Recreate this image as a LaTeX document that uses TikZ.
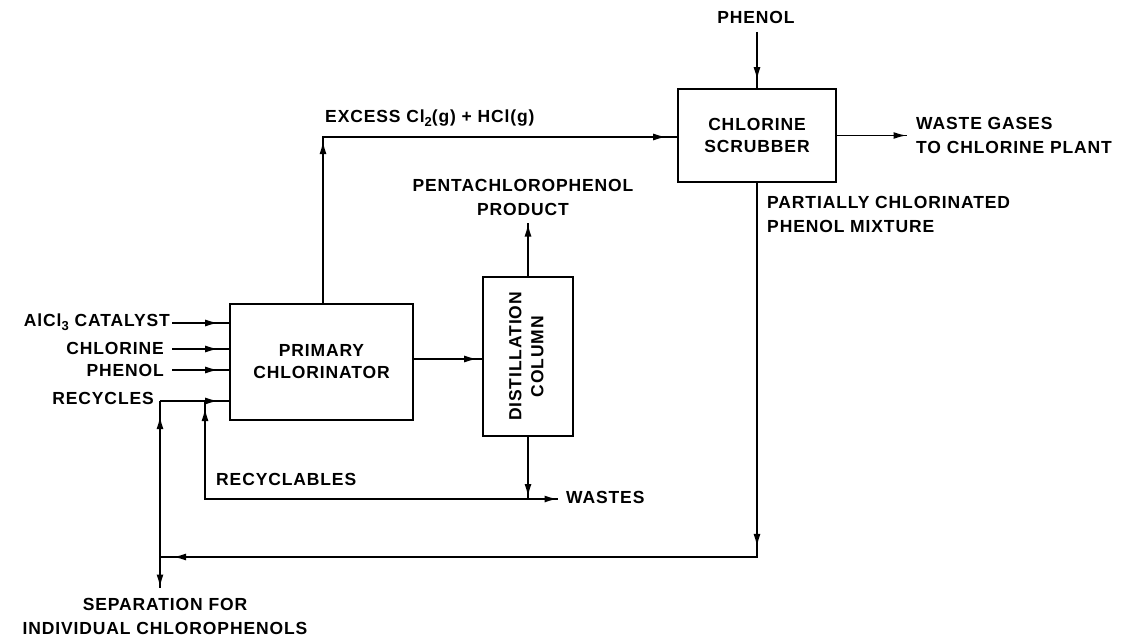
\documentclass[tikz,border=0pt]{standalone}
\usepackage{fontspec}
\setmainfont[LetterSpace=5]{Liberation Sans}
\usetikzlibrary{decorations.markings,arrows.meta}
\newcommand{\sbs}[1]{\raisebox{-0.45ex}{\fontsize{13}{13}\selectfont #1}}
\tikzset{
  lbl/.style={font=\fontsize{17.5}{24}\selectfont\bfseries, inner sep=0pt},
  box/.style={draw, line width=1.8pt, font=\fontsize{17.5}{22}\selectfont\bfseries, align=center, inner sep=0pt},
  flow/.style={line width=1.6pt},
  flowtip/.tip={Latex[length=13pt,width=7pt]},
  mk/.style={postaction={decorate,decoration={markings,mark=at position #1 with {\arrow{flowtip}}}}},
}
\begin{document}
\begin{tikzpicture}[x=1pt,y=-1pt]
\useasboundingbox (0,0) rectangle (1123,642);
% boxes
\node[box, minimum width=183pt, minimum height=116pt] (prim) at (321.5,362) {PRIMARY\\CHLORINATOR};
\node[box, minimum width=90pt, minimum height=159pt] (dist) at (528,356.5) {\rotatebox{90}{\begin{tabular}{@{}c@{}}DISTILLATION\\COLUMN\end{tabular}}};
\node[box, minimum width=158pt, minimum height=93pt] (scrub) at (757,135.5) {CHLORINE\\SCRUBBER};
% coordinates
\coordinate (catIn) at (172,323);
\coordinate (chlIn) at (172,349);
\coordinate (phIn) at (172,370);
\coordinate (recIn) at (160,401);
\coordinate (loopR) at (757,557);
\coordinate (loopL) at (160,557);
\coordinate (sepOut) at (160,588);
\coordinate (wj) at (528,499);
\coordinate (wOut) at (558,499);
\coordinate (rcy) at (205,499);
\coordinate (exUp) at (323,137);
\coordinate (prodTop) at (528,223);
\coordinate (phenTop) at (757,32);
\coordinate (wgOut) at (907,135.5);
% labels
\node[lbl, anchor=east] (catL) at (170,322) {AlCl\sbs{3} CATALYST};
\node[lbl, anchor=east] (chlL) at (164,348) {CHLORINE};
\node[lbl, anchor=east] (phL) at (164,370) {PHENOL};
\node[lbl, anchor=east] (recL) at (154,398) {RECYCLES};
\node[lbl, anchor=west] (rcyL) at (216,479) {RECYCLABLES};
\node[lbl, anchor=west] (wasL) at (566,497) {WASTES};
\node[lbl, align=center] (sepL) at (165,616) {SEPARATION FOR\\INDIVIDUAL CHLOROPHENOLS};
\node[lbl, align=center] (prodL) at (523,197) {PENTACHLOROPHENOL\\PRODUCT};
\node[lbl, anchor=west] (exL) at (325,118) {EXCESS Cl\sbs{2}(g) + HCl(g)};
\node[lbl] (phenL) at (756,17) {PHENOL};
\node[lbl, align=left, anchor=west] (wgL) at (916,135) {WASTE GASES\\TO CHLORINE PLANT};
\node[lbl, align=left, anchor=west] (pcL) at (767,214) {PARTIALLY CHLORINATED\\PHENOL MIXTURE};
% connectors
\draw[flow, mk=-11pt] (catIn) -- (catIn -| prim.west);
\draw[flow, mk=-11pt] (chlIn) -- (chlIn -| prim.west);
\draw[flow, mk=-11pt] (phIn) -- (phIn -| prim.west);
\draw[flow, mk=-11pt] (recIn) -- (recIn -| prim.west);
\draw[flow, mk=-5pt] ([yshift=3pt]prim.east) -- ([yshift=3pt]prim.east -| dist.west);
\draw[flow, mk=-0.5pt] (dist.north) -- (prodTop);
\draw[flow, mk=162pt, mk=-11pt] (prim.north -| exUp) -- (exUp) -- (exUp -| scrub.west);
\draw[flow, mk=-8pt] (phenTop) -- (scrub.north);
\draw[flow, mk=-0.5pt] (scrub.east) -- (wgOut);
\draw[flow, mk=364pt, mk=958pt] (scrub.south) -- (loopR) -- (loopL);
\draw[flow, mk=141pt] (loopL) -- (recIn);
\draw[flow, mk=-0.5pt] (loopL) -- (sepOut);
\draw[flow, mk=-2pt] (dist.south) -- (wj);
\draw[flow, mk=-0.5pt] (wj) -- (wOut);
\draw[flow, mk=414pt] (wj) -- (rcy) -- (rcy |- recIn);
\end{tikzpicture}
\end{document}
